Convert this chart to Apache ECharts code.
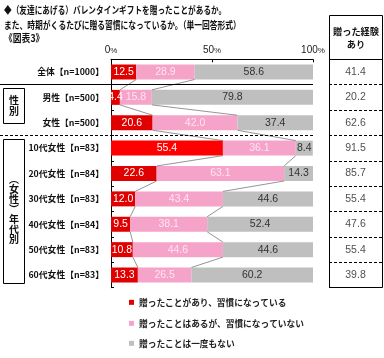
<!DOCTYPE html>
<html><head><meta charset="utf-8">
<script src="https://cdn.jsdelivr.net/npm/echarts@6/dist/echarts.min.js"></script>
<style>html,body{margin:0;padding:0;background:#fff}#c{width:384px;height:358px}</style>
</head><body><div id="c"></div>
<script>
const categories = ['全体【n=1000】','男性【n=500】','女性【n=500】','10代女性【n=83】','20代女性【n=84】','30代女性【n=83】','40代女性【n=84】','50代女性【n=83】','60代女性【n=83】'];
const seriesNames = ['贈ったことがあり、習慣になっている','贈ったことはあるが、習慣になっていない','贈ったことは一度もない'];
const habit = [12.5, 4.4, 20.6, 55.4, 22.6, 12.0, 9.5, 10.8, 13.3];
const noHabit = [28.9, 15.8, 42.0, 36.1, 63.1, 43.4, 38.1, 44.6, 26.5];
const never = [58.6, 79.8, 37.4, 8.4, 14.3, 44.6, 52.4, 44.6, 60.2];
const experience = [41.4, 20.2, 62.6, 91.5, 85.7, 55.4, 47.6, 55.4, 39.8];
const xTickLabels = ['0%', '50%', '100%'];
const tableHeader = '贈った経験\nあり';
const titleLines = ['◆（友達にあげる）バレンタインギフトを贈ったことがあるか。','また、時期がくるたびに贈る習慣になっているか。（単一回答形式）','《図表3》'];

const JPF = '"Noto Sans CJK JP"';
const JP = '"Noto Sans CJK JP", sans-serif';
const NUM = '"Liberation Sans", Arial, sans-serif';
const RED = '#e00000', RED_HI = '#ff0000', PINK = '#f5a3c9', GRAY = '#bfbfbf';
const GT = 59.3, GH = 228.4, GL = 111, GW = 202;

const titleScale = [0.767, 0.777, 0.88];
const titleTops = [5, 20, 33];
const legendTops = [293, 314, 334];

function lbl(color){
  return {show:true, position:'inside', color:color, fontFamily:NUM, fontSize:10.5,
          formatter:p => Number(p.value).toFixed(1)};
}
const cum1 = habit.slice();
const cum2 = habit.map((v,i)=>v+noHabit[i]);

const titleGraphics = titleLines.map((t,k)=>({
  type:'group', x:4, y:titleTops[k], scaleX:titleScale[k], scaleY:1,
  children:[{type:'text', x:0, y:0,
    style:{text:t, fontSize:10, fontWeight:'bold', fontFamily:JPF, fill:'#111', verticalAlign:'top', textVerticalAlign:'top'}}]
}));

const legends = seriesNames.map((n,k)=>({
  orient:'vertical', left:124, top:legendTops[k], itemWidth:5, itemHeight:5,
  icon:'rect', data:[n], selectedMode:false,
  textStyle:{fontFamily:JP, fontSize:8.7, fontWeight:'bold', color:'#222'}
}));

const chart = echarts.init(document.getElementById('c'), null, {renderer:'canvas'});
chart.setOption({
  animation:false,
  textStyle:{fontFamily:JP},
  grid:[
    {left:GL, top:GT, width:GW, height:GH},
    {left:329, top:GT, width:53, height:GH}
  ],
  xAxis:[
    {gridIndex:0, type:'value', position:'top', min:0, max:100, interval:50,
     axisLine:{show:true, lineStyle:{color:'#000', width:1}},
     axisTick:{show:true, inside:true, length:3, lineStyle:{color:'#000'}},
     splitLine:{show:false},
     axisLabel:{color:'#222', fontFamily:NUM, fontSize:10, margin:4,
       formatter:(v)=>{const t = xTickLabels[Math.round(v/50)]; return t.replace('%','{p|%}');},
       rich:{p:{fontSize:8, fontFamily:NUM, color:'#222'}}}},
    {gridIndex:1, type:'category', data:['x'], show:false}
  ],
  yAxis:[
    {gridIndex:0, type:'category', data:categories, inverse:true,
     axisLine:{show:true, lineStyle:{color:'#000', width:1}},
     axisTick:{show:true, inside:true, length:3, lineStyle:{color:'#000'}},
     axisLabel:{color:'#111', fontFamily:JP, fontWeight:'bold', fontSize:8.8, margin:7}},
    {gridIndex:1, type:'category', data:categories, inverse:true,
     axisLine:{show:false}, axisTick:{show:false}, axisLabel:{show:false},
     splitLine:{show:true, lineStyle:{color:'#000', type:[3,2], width:1}}}
  ],
  legend:legends,
  series:[
    {name:seriesNames[0], type:'bar', stack:'s', barWidth:15,
     data:habit.map((v,i)=>i===3?{value:v, itemStyle:{color:RED_HI}}:v),
     itemStyle:{color:RED}, label:lbl('#ffffff')},
    {name:seriesNames[1], type:'bar', stack:'s', barWidth:15, data:noHabit,
     itemStyle:{color:PINK}, label:lbl('#fde6f1')},
    {name:seriesNames[2], type:'bar', stack:'s', barWidth:15, data:never,
     itemStyle:{color:GRAY}, label:lbl('#333333')},
    {type:'custom', xAxisIndex:0, yAxisIndex:0, z:5,
     data:categories.slice(0,-1).map((c,i)=>[i]),
     renderItem:(params, api)=>{
       const i = params.dataIndex;
       const half = 7.5;
       const kids = [];
       [cum1, cum2].forEach(arr=>{
         const a = api.coord([arr[i], i]);
         const b = api.coord([arr[i+1], i+1]);
         kids.push({type:'line', shape:{x1:a[0], y1:a[1]+half, x2:b[0], y2:b[1]-half},
                    style:{stroke:'#7a7a7a', lineWidth:0.8}});
       });
       return {type:'group', children:kids};
     }},
    {type:'scatter', xAxisIndex:1, yAxisIndex:1, symbolSize:0,
     data:experience.map((v,i)=>[0, i, v]),
     label:{show:true, position:'inside', color:'#222', fontFamily:NUM, fontSize:10.5,
            formatter:p=>p.value[2].toFixed(1)}}
  ],
  graphic:titleGraphics.concat([
    {type:'rect', shape:{x:329.5, y:15.5, width:53, height:272}, style:{fill:null, stroke:'#000', lineWidth:1}, z:10},
    {type:'line', shape:{x1:329.5, y1:59.5, x2:382.5, y2:59.5}, style:{stroke:'#000', lineWidth:1}, z:10},
    {type:'text', x:356, y:38, style:{text:tableHeader, fontSize:9.2, fontWeight:'bold', fontFamily:JPF, fill:'#111', align:'center', verticalAlign:'middle', textAlign:'center', textVerticalAlign:'middle', lineHeight:13}, z:10},
    {type:'line', shape:{x1:0, y1:84.5, x2:313, y2:84.5}, style:{stroke:'#000', lineWidth:1}, z:10},
    {type:'line', shape:{x1:0, y1:135.5, x2:313, y2:135.5}, style:{stroke:'#000', lineWidth:1, lineDash:[3,2]}, z:10},
    {type:'rect', shape:{x:3.5, y:88.5, width:21, height:35}, style:{fill:null, stroke:'#000', lineWidth:1}, z:10},
    {type:'text', x:14, y:106, style:{text:'性\n別', fontSize:10, fontWeight:'bold', fontFamily:JPF, fill:'#111', align:'center', verticalAlign:'middle', textAlign:'center', textVerticalAlign:'middle', lineHeight:11}, z:10},
    {type:'rect', shape:{x:3.5, y:139.5, width:21, height:144}, style:{fill:null, stroke:'#000', lineWidth:1}, z:10},
    {type:'text', x:14, y:209, style:{text:'︵\n女\n性\n︶\n年\n代\n別', fontSize:10, fontWeight:'bold', fontFamily:JPF, fill:'#111', align:'center', verticalAlign:'middle', textAlign:'center', textVerticalAlign:'middle', lineHeight:10}, z:10}
  ])
});
</script></body></html>
